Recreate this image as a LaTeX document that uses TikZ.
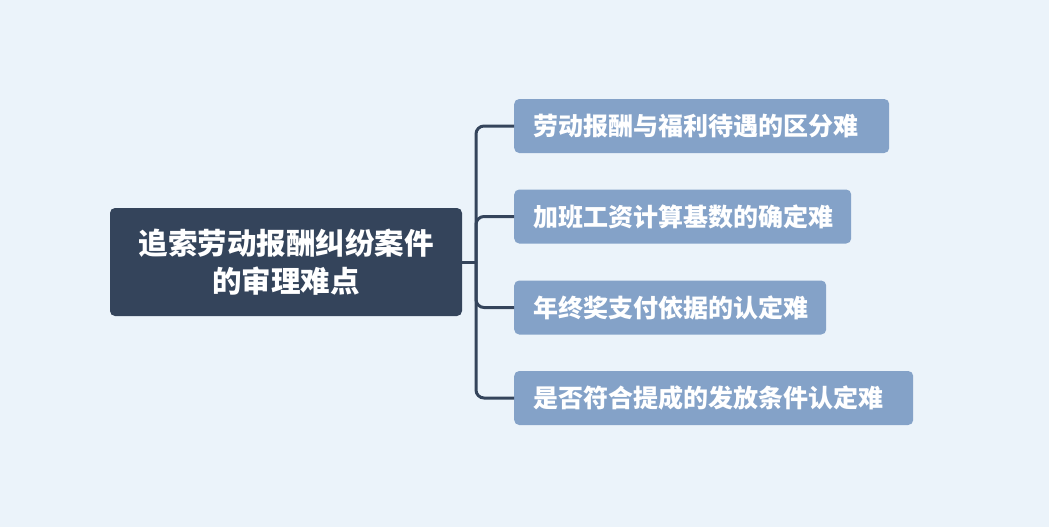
\documentclass[tikz,border=0pt]{standalone}
\usepackage{fontspec}
\newfontfamily\cjk{Noto Sans CJK SC}
\definecolor{bg}{HTML}{EBF3FA}
\definecolor{rootc}{HTML}{34445B}
\definecolor{childc}{HTML}{84A2C8}
\begin{document}
\begin{tikzpicture}[x=1pt,y=-1pt,
  rootbox/.style={fill=rootc,rounded corners=5pt,text=white,font=\cjk\bfseries\fontsize{29.5}{37}\selectfont,align=center,minimum width=352pt,minimum height=108pt,inner sep=0pt},
  childbox/.style={fill=childc,rounded corners=5pt,text=white,font=\cjk\bfseries\fontsize{25}{30}\selectfont,align=left,minimum height=54pt,inner xsep=19pt,inner ysep=0pt,anchor=west},
  link/.style={draw=rootc,line width=3pt,rounded corners=8pt}]
\fill[bg] (0,0) rectangle (1049,527);
\useasboundingbox (0,0) rectangle (1049,527);
\node[rootbox] (root) at (286,262) {追索劳动报酬纠纷案件\\[1pt]的审理难点};
\node[childbox,text width=337pt] (c1) at (514,126) {劳动报酬与福利待遇的区分难};
\node[childbox,text width=299pt] (c2) at (514,216.5) {加班工资计算基数的确定难};
\node[childbox,text width=274pt] (c3) at (514,307.5) {年终奖支付依据的认定难};
\node[childbox,text width=361pt] (c4) at (514,398) {是否符合提成的发放条件认定难};
\coordinate (j) at (476,262);
\draw[link] (root.east) -- (j);
\draw[link] (j) |- (c1.west);
\draw[link] (j) |- (c2.west);
\draw[link] (j) |- (c3.west);
\draw[link] (j) |- (c4.west);
\end{tikzpicture}
\end{document}
